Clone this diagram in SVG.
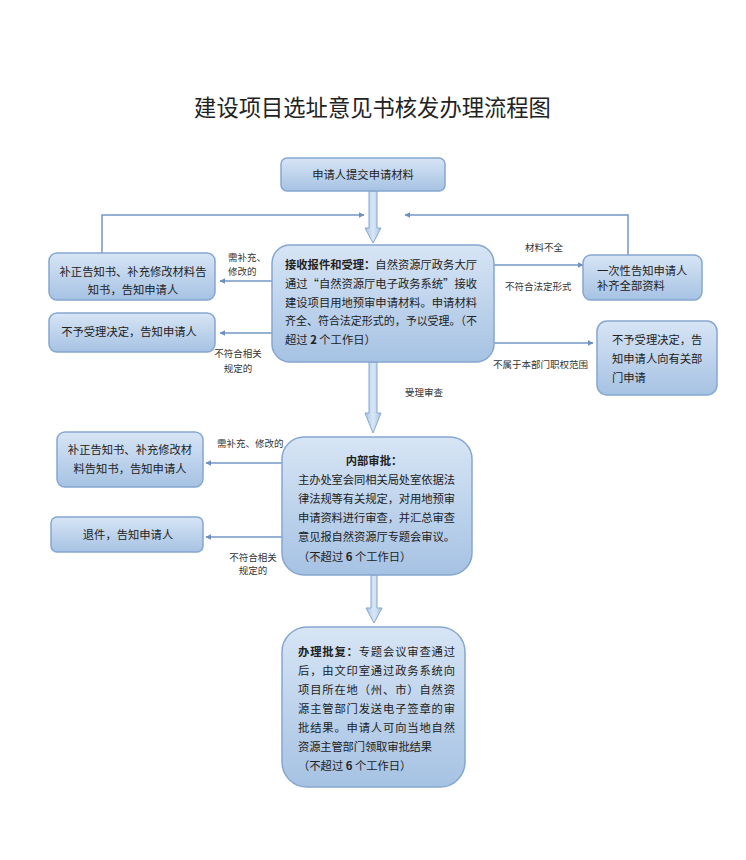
<svg xmlns="http://www.w3.org/2000/svg" width="746" height="860" viewBox="0 0 746 860">
<defs>
<linearGradient id="g" x1="0" y1="0" x2="0" y2="1">
<stop offset="0" stop-color="#d7e5f5"/>
<stop offset="1" stop-color="#a6c2e3"/>
</linearGradient>
<linearGradient id="ga" x1="0" y1="0" x2="1" y2="0">
<stop offset="0" stop-color="#a9c5e6"/>
<stop offset="0.5" stop-color="#d9e7f6"/>
<stop offset="1" stop-color="#a9c5e6"/>
</linearGradient>
<marker id="ah" viewBox="0 0 10 10" refX="9" refY="5" markerWidth="6" markerHeight="6" markerUnits="userSpaceOnUse" orient="auto">
<path d="M0,0 L10,5 L0,10 z" fill="#6e90bd"/>
</marker>
<style>
.box{fill:url(#g);stroke:#86a7cf;stroke-width:1.5}
.blk{fill:url(#ga);stroke:#86a7cf;stroke-width:1}
.ln{fill:none;stroke:#7497c3;stroke-width:1.5}
.t{font-family:"Noto Sans CJK SC","Noto Sans",sans-serif;font-size:11.3px;fill:#222}
.c{text-anchor:middle}
.lb{font-family:"Noto Sans CJK SC","Noto Sans",sans-serif;font-size:9.5px;fill:#333}
.b{font-weight:bold}
</style>
</defs>
<rect width="746" height="860" fill="#fff"/>
<text x="372.5" y="116" class="c" font-family="'Noto Sans CJK SC',sans-serif" font-size="22.3" fill="#222">建设项目选址意见书核发办理流程图</text>

<g id="connectors">
<path class="ln" d="M102,253 V215 H364" marker-end="url(#ah)"/>
<path class="ln" d="M628,255 V215 H405" marker-end="url(#ah)"/>
<path class="ln" d="M272,281 H220" marker-end="url(#ah)"/>
<path class="ln" d="M272,333 H220" marker-end="url(#ah)"/>
<path class="ln" d="M494,265 H583" marker-end="url(#ah)"/>
<path class="ln" d="M494,343 H593" marker-end="url(#ah)"/>
<path class="ln" d="M282,463 H206" marker-end="url(#ah)"/>
<path class="ln" d="M282,537 H206" marker-end="url(#ah)"/>
<path class="blk" d="M369,191 H377 V228 H381 L373,243 L365,228 H369 Z"/>
<path class="blk" d="M369,362 H377 V413 H381 L373,433 L365,413 H369 Z"/>
<path class="blk" d="M371,575 H377 V608 H382 L374,623 L366,608 H371 Z"/>
<text class="lb" x="228" y="260.5">需补充、</text>
<text class="lb" x="228" y="274.5">修改的</text>
<text class="lb c" x="238" y="356.5">不符合相关</text>
<text class="lb c" x="238" y="371.5">规定的</text>
<text class="lb" x="525" y="250.5">材料不全</text>
<text class="lb" x="505" y="289.5">不符合法定形式</text>
<text class="lb" x="493" y="367.5">不属于本部门职权范围</text>
<text class="lb" x="405" y="395.5">受理审查</text>
<text class="lb" x="217" y="446.5">需补充、修改的</text>
<text class="lb c" x="253" y="560.5">不符合相关</text>
<text class="lb c" x="253" y="573.5">规定的</text>
</g>

<g id="n-submit">
<rect class="box" x="281" y="158" width="164" height="33" rx="6"/>
<text class="t c" x="363" y="179">申请人提交申请材料</text>
</g>

<g id="n-accept">
<rect class="box" x="272" y="245" width="222" height="117" rx="18"/>
<text class="t" x="285" y="269" textLength="192" lengthAdjust="spacing"><tspan class="b">接收报件和受理：</tspan>自然资源厅政务大厅</text>
<text class="t" x="285" y="288" textLength="192" lengthAdjust="spacing">通过“自然资源厅电子政务系统”接收</text>
<text class="t" x="285" y="307" textLength="192" lengthAdjust="spacing">建设项目用地预审申请材料。申请材料</text>
<text class="t" x="285" y="325" textLength="192" lengthAdjust="spacingAndGlyphs">齐全、符合法定形式的，予以受理。（不</text>
<text class="t" x="285" y="344">超过 <tspan class="b">2</tspan> 个工作日）</text>
</g>

<g id="n-supp1">
<rect class="box" x="49" y="253" width="166" height="47" rx="8"/>
<text class="t c" x="133" y="276" font-size="10.8">补正告知书、补充修改材料告</text>
<text class="t c" x="133" y="294" font-size="10.8">知书，告知申请人</text>
</g>

<g id="n-reject1">
<rect class="box" x="49" y="313" width="166" height="39" rx="8"/>
<text class="t c" x="129" y="336">不予受理决定，告知申请人</text>
</g>

<g id="n-once">
<rect class="box" x="583" y="255" width="119" height="45" rx="8"/>
<text class="t" x="597" y="275" font-size="11.8">一次性告知申请人</text>
<text class="t" x="597" y="289.5" font-size="11">补齐全部资料</text>
</g>

<g id="n-reject2">
<rect class="box" x="597" y="321" width="120" height="74" rx="10"/>
<text class="t" x="612" y="344" font-size="11">不予受理决定，告</text>
<text class="t" x="612" y="363" font-size="11">知申请人向有关部</text>
<text class="t" x="612" y="382" font-size="11">门申请</text>
</g>

<g id="n-internal">
<rect class="box" x="282" y="437" width="190" height="138" rx="22"/>
<text class="t c b" x="374" y="464.5">内部审批：</text>
<text class="t" x="298" y="484" textLength="157" lengthAdjust="spacing">主办处室会同相关局处室依据法</text>
<text class="t" x="298" y="503" textLength="157" lengthAdjust="spacing">律法规等有关规定，对用地预审</text>
<text class="t" x="298" y="522" textLength="157" lengthAdjust="spacing">申请资料进行审查，并汇总审查</text>
<text class="t" x="298" y="541" textLength="157" lengthAdjust="spacing">意见报自然资源厅专题会审议。</text>
<text class="t" x="298" y="561">（不超过 <tspan class="b">6</tspan> 个工作日）</text>
</g>

<g id="n-supp2">
<rect class="box" x="57" y="432" width="146" height="55" rx="8"/>
<text class="t c" x="130" y="454">补正告知书、补充修改材</text>
<text class="t c" x="130" y="473">料告知书，告知申请人</text>
</g>

<g id="n-return">
<rect class="box" x="51" y="517" width="152" height="35" rx="6"/>
<text class="t c" x="128" y="539">退件，告知申请人</text>
</g>

<g id="n-approve">
<rect class="box" x="282" y="627" width="183" height="160" rx="25"/>
<text class="t" x="298" y="655.5" textLength="157" lengthAdjust="spacing"><tspan class="b">办理批复：</tspan>专题会议审查通过</text>
<text class="t" x="298" y="674.5" textLength="157" lengthAdjust="spacing">后，由文印室通过政务系统向</text>
<text class="t" x="298" y="693.5" textLength="157" lengthAdjust="spacing">项目所在地（州、市）自然资</text>
<text class="t" x="298" y="712.5" textLength="157" lengthAdjust="spacing">源主管部门发送电子签章的审</text>
<text class="t" x="298" y="731.5" textLength="157" lengthAdjust="spacing">批结果。申请人可向当地自然</text>
<text class="t" x="298" y="751" textLength="134" lengthAdjust="spacing">资源主管部门领取审批结果</text>
<text class="t" x="298" y="770">（不超过 <tspan class="b">6</tspan> 个工作日）</text>
</g>
</svg>
